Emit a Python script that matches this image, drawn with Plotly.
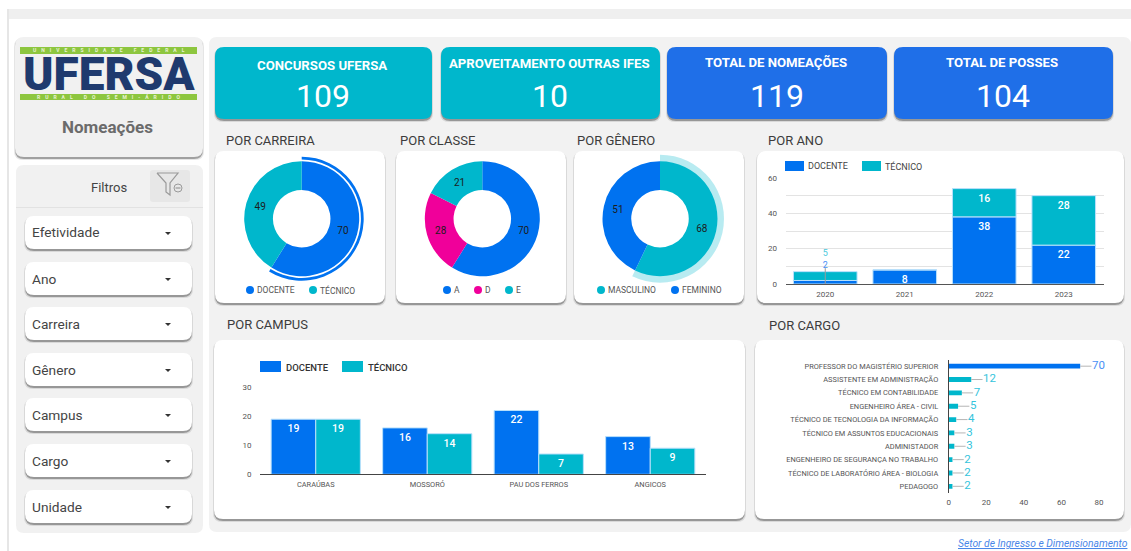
import plotly.graph_objects as go

W, H = 1131, 551
BLUE, TEAL, PINK = "#0072f0", "#00b7cc", "#f0009a"

# ---- data ----
kpi_titles = ["CONCURSOS UFERSA", "APROVEITAMENTO OUTRAS IFES", "TOTAL DE NOMEAÇÕES", "TOTAL DE POSSES"]
kpi_values = [109, 10, 119, 104]
carreira_labels = ["DOCENTE", "TÉCNICO"]
carreira_values = [70, 49]
classe_labels = ["A", "D", "E"]
classe_values = [70, 28, 21]
genero_labels = ["MASCULINO", "FEMININO"]
genero_values = [68, 51]
anos = ["2020", "2021", "2022", "2023"]
ano_docente = [2, 8, 38, 22]
ano_tecnico = [5, 0, 16, 28]
campi = ["CARAÚBAS", "MOSSORÓ", "PAU DOS FERROS", "ANGICOS"]
campus_docente = [19, 16, 22, 13]
campus_tecnico = [19, 14, 7, 9]
cargos = ["PROFESSOR DO MAGISTÉRIO SUPERIOR", "ASSISTENTE EM ADMINISTRAÇÃO", "TÉCNICO EM CONTABILIDADE",
          "ENGENHEIRO ÁREA - CIVIL", "TÉCNICO DE TECNOLOGIA DA INFORMAÇÃO", "TÉCNICO EM ASSUNTOS EDUCACIONAIS",
          "ADMINISTADOR", "ENGENHEIRO DE SEGURANÇA NO TRABALHO", "TÉCNICO DE LABORATÓRIO ÁREA - BIOLOGIA", "PEDAGOGO"]
cargo_values = [70, 12, 7, 5, 4, 3, 3, 2, 2, 2]
filtros = ["Efetividade", "Ano", "Carreira", "Gênero", "Campus", "Cargo", "Unidade"]

# ---- pixel helpers ----
px = lambda x: x / W
py = lambda y: 1 - y / H
shapes, annots = [], []


def rrect(x0, y0, x1, y1, r, fill, layer="below"):
    X0, X1, Y0, Y1 = px(x0), px(x1), py(y0), py(y1)
    rx, ry = r / W, r / H
    d = (f"M {X0+rx} {Y0} L {X1-rx} {Y0} Q {X1} {Y0} {X1} {Y0-ry} L {X1} {Y1+ry} Q {X1} {Y1} {X1-rx} {Y1} "
         f"L {X0+rx} {Y1} Q {X0} {Y1} {X0} {Y1+ry} L {X0} {Y0-ry} Q {X0} {Y0} {X0+rx} {Y0} Z")
    shapes.append(dict(type="path", path=d, xref="paper", yref="paper", fillcolor=fill,
                       line=dict(width=0), layer=layer))


def card(x0, y0, x1, y1, r=9, fill="#ffffff"):
    rrect(x0 - 1, y0 + 1, x1 + 1, y1 + 3, r, "rgba(0,0,0,0.10)")
    rrect(x0, y0 + 1, x1, y1 + 2, r, "rgba(0,0,0,0.30)")
    rrect(x0, y0, x1, y1, r, fill)


def text(x, y, s, size=12, color="#333333", anchor="left", weight=None, family="Roboto"):
    f = dict(size=size, color=color, family=family)
    if weight:
        f["weight"] = weight
    annots.append(dict(x=px(x), y=py(y), xref="paper", yref="paper", text=s, showarrow=False,
                       xanchor=anchor, yanchor="middle", font=f, borderpad=0))


def line_path(points, color, width=1.2):
    d = "M " + " L ".join(f"{px(a)} {py(b)}" for a, b in points)
    shapes.append(dict(type="path", path=d, xref="paper", yref="paper", line=dict(color=color, width=width)))


def circle(cx, cy, r, fill, lcolor=None):
    shapes.append(dict(type="circle", xref="paper", yref="paper", x0=px(cx - r), x1=px(cx + r),
                       y0=py(cy + r), y1=py(cy - r), fillcolor=fill,
                       line=dict(width=1 if lcolor else 0, color=lcolor or fill)))


def swatch(x0, y0, x1, y1, fill):
    shapes.append(dict(type="rect", xref="paper", yref="paper", x0=px(x0), x1=px(x1),
                       y0=py(y1), y1=py(y0), fillcolor=fill, line=dict(width=0)))


def spaced(s, gap=4):
    return ("\u00a0" * gap).join(s)


# ---- page furniture ----
shapes.append(dict(type="rect", xref="paper", yref="paper", x0=px(7), x1=1, y0=py(19), y1=py(9),
                   fillcolor="#efefef", line=dict(width=0), layer="below"))
shapes.append(dict(type="rect", xref="paper", yref="paper", x0=px(7), x1=px(9), y0=0, y1=py(9),
                   fillcolor="#e6e6e6", line=dict(width=0), layer="below"))
rrect(209, 37, 1131, 532, 8, "#f2f2f2")

# logo card
card(15, 37, 203, 157, 9, "#f1f1f1")
swatch(20, 47, 197, 54, "#8dc63f")
swatch(20, 94, 197, 100, "#8dc63f")
text(108.5, 50.5, spaced("UNIVERSIDADE FEDERAL"), 5, "#e8f3d4", "center", 700)
text(108.5, 97.5, spaced("RURAL DO SEMI-ÁRIDO"), 5, "#e8f3d4", "center", 700)
text(108.5, 74, "UFERSA", 46, "#1f3a6e", "center", 900)
text(108, 127, "Nomeações", 17, "#6b6b6b", "center", 700)

# filter panel
rrect(16, 165, 203, 533, 8, "#f1f1f1")
shapes.append(dict(type="rect", xref="paper", yref="paper", x0=px(16), x1=px(203), y0=py(208), y1=py(207),
                   fillcolor="#e2e2e2", line=dict(width=0), layer="below"))
text(108.5, 187, "Filtros", 13, "#444444", "center")
rrect(150, 170, 190, 202, 3, "#e7e7e7")
line_path([(157, 173), (178, 173), (170, 183), (170, 195), (166, 192), (166, 183), (157, 173)], "#9a9a9a")
circle(178, 188, 4, "#e7e7e7", "#9a9a9a")
line_path([(175.5, 188), (180.5, 188)], "#9a9a9a")

drop_tops = [216, 262, 307, 353, 398, 444, 490]
for name, top in zip(filtros, drop_tops):
    card(25, top, 192, top + 33, 9)
    text(31, top + 16.5, name, 13.7, "#444444")
    shapes.append(dict(type="path", xref="paper", yref="paper", fillcolor="#333333", line=dict(width=0),
                       path=f"M {px(165)} {py(top+16)} L {px(171)} {py(top+16)} L {px(168)} {py(top+19)} Z"))

# KPI cards
kpi_boxes = [(215, 432), (441, 660), (667, 887), (894, 1113)]
kpi_colors = [TEAL, TEAL, "#1f6fe8", "#1f6fe8"]
kpi_title_y = [66, 63, 62, 62]
for (x0, x1), c, t, v, ty in zip(kpi_boxes, kpi_colors, kpi_titles, kpi_values, kpi_title_y):
    card(x0, 47, x1, 119, 9, c)
    mid = (x0 + x1) / 2
    text(mid - 1.5, ty, t, 13.2, "#ffffff", "center", 700)
    text(mid - 0.5, 96, str(v), 32, "#ffffff", "center")

# chart cards + section titles
for b in [(215, 151, 385, 303), (396, 151, 566, 303), (574, 151, 744, 303), (757, 151, 1124, 303),
          (214, 340, 745, 519), (755, 340, 1124, 519)]:
    card(*b)
for x, y, s in [(225, 140, "POR CARREIRA"), (399, 140, "POR CLASSE"), (576, 140, "POR GÊNERO"),
                (767, 140, "POR ANO"), (226, 324.5, "POR CAMPUS"), (768, 325.5, "POR CARGO")]:
    text(x, y, s, 13, "#3c3c3c")

fig = go.Figure()


def pie(cx, cy, r, labels, values, colors, hole, show_text=True):
    fig.add_trace(go.Pie(labels=labels, values=values, sort=False, direction="clockwise", rotation=0,
                         hole=hole, showlegend=False,
                         marker=dict(colors=colors, line=dict(width=0)),
                         domain=dict(x=[px(cx - r), px(cx + r)], y=[py(cy + r), py(cy - r)]),
                         textinfo="value" if show_text else "none",
                         textposition="inside" if show_text else "none",
                         insidetextorientation="horizontal",
                         textfont=dict(size=10, color="#1c1c1c", family="Roboto"),
                         hoverinfo="label+value" if show_text else "skip"))


CLEAR = "rgba(0,0,0,0)"
pie(301.7, 218.7, 62, carreira_labels, carreira_values, [BLUE, CLEAR], 0.955, False)
pie(301.7, 218.7, 57.5, carreira_labels, carreira_values, [BLUE, TEAL], 0.5)
pie(482.3, 218.7, 57.5, classe_labels, classe_values, [BLUE, PINK, TEAL], 0.5)
pie(660, 218.7, 64, genero_labels, genero_values, ["rgba(0,183,204,0.28)", CLEAR], 0.89, False)
pie(660, 218.7, 57.5, genero_labels, genero_values, [TEAL, BLUE], 0.5)

# pie legends
for cx, c, s in [(250, BLUE, "DOCENTE"), (313, TEAL, "TÉCNICO"), (447, BLUE, "A"), (478, PINK, "D"),
                 (509, TEAL, "E"), (601, TEAL, "MASCULINO"), (675, BLUE, "FEMININO")]:
    circle(cx, 290, 4, c)
    text(cx + 6, 290, s, 8.5, "#555555")

# bar legends
for x0, c, s in [(785, BLUE, "DOCENTE"), (862, TEAL, "TÉCNICO")]:
    swatch(x0, 161, x0 + 19, 171, c)
    text(x0 + 22, 166, s, 9, "#444444")
for x0, c, s in [(260, BLUE, "DOCENTE"), (342, TEAL, "TÉCNICO")]:
    swatch(x0, 361, x0 + 21, 372, c)
    text(x0 + 25, 367, s, 9.5, "#333333", weight=500)

tick8 = dict(size=8, color="#555555", family="Roboto")
tick7 = dict(size=7.4, color="#555555", family="Roboto")
edge = dict(color="#b9e0fb", width=1)
bar_font = dict(size=10.5, color="#ffffff", family="Roboto", weight=500)

# Por ano (stacked by sharing an offset group, technical sitting on docente)
fig.add_trace(go.Bar(x=anos, y=ano_docente, name="DOCENTE", marker=dict(color=BLUE, line=edge),
                     text=["" if v < 5 else str(v) for v in ano_docente], showlegend=False,
                     offsetgroup="ano", xaxis="x", yaxis="y"))
fig.add_trace(go.Bar(x=anos, y=ano_tecnico, base=ano_docente, name="TÉCNICO", marker=dict(color=TEAL, line=edge),
                     text=["" if i == 0 or v == 0 else str(v) for i, v in enumerate(ano_tecnico)], showlegend=False,
                     offsetgroup="ano", xaxis="x", yaxis="y"))
# Por campus (grouped)
fig.add_trace(go.Bar(x=campi, y=campus_docente, name="DOCENTE", marker=dict(color=BLUE, line=edge),
                     text=[str(v) for v in campus_docente], showlegend=False, xaxis="x2", yaxis="y2"))
fig.add_trace(go.Bar(x=campi, y=campus_tecnico, name="TÉCNICO", marker=dict(color=TEAL, line=edge),
                     text=[str(v) for v in campus_tecnico], showlegend=False, xaxis="x2", yaxis="y2"))
fig.update_traces(selector=dict(type="bar"), textposition="inside", insidetextanchor="end", textangle=0,
                  constraintext="none", textfont=bar_font)

# 2020 small-segment callouts
fig.add_trace(go.Scatter(x=[anos[0], anos[0]], y=[0, 9], mode="lines", line=dict(color="#9a9a9a", width=1),
                         showlegend=False, hoverinfo="skip", xaxis="x", yaxis="y"))
fig.add_trace(go.Scatter(x=[anos[0], anos[0]], y=[10.5, 17], mode="text", cliponaxis=False,
                         text=[str(ano_docente[0]), str(ano_tecnico[0])],
                         textfont=dict(size=9, color=["#4a90f5", "#4cc9dc"], family="Roboto"),
                         showlegend=False, hoverinfo="skip", xaxis="x", yaxis="y"))

# Por cargo (horizontal)
cargo_colors = [BLUE] + [TEAL] * 9
LEADER = [6] * len(cargo_values)
fig.add_trace(go.Bar(y=cargos, x=cargo_values, orientation="h", marker=dict(color=cargo_colors, line=dict(width=0)),
                     width=0.36, showlegend=False, xaxis="x3", yaxis="y3",
                     error_x=dict(type="data", symmetric=False, array=LEADER, arrayminus=[0] * len(LEADER),
                                  color="#b5b5b5", thickness=1, width=0)))
fig.add_trace(go.Scatter(y=cargos, x=[v + l + 0.3 for v, l in zip(cargo_values, LEADER)], mode="text",
                         text=[str(v) for v in cargo_values], textposition="middle right", cliponaxis=False,
                         textfont=dict(size=11.5, color=["#4a90f5"] + ["#35c4dc"] * 9, family="Roboto"),
                         showlegend=False, hoverinfo="skip", xaxis="x3", yaxis="y3"))

text(1129, 543.5, "<i><u>Setor de Ingresso e Dimensionamento</u></i>", 10.3, "#4a86e8", "right")

fig.update_layout(
    width=W, height=H, autosize=False, margin=dict(l=0, r=0, t=0, b=0, pad=0, autoexpand=False),
    paper_bgcolor="#ffffff", plot_bgcolor="rgba(0,0,0,0)", shapes=shapes, annotations=annots,
    hovermode=False,
    barmode="group", bargap=0.2, bargroupgap=0,
    xaxis=dict(domain=[px(785.5), px(1103.5)], anchor="y", type="category", showline=True, linecolor="#555555",
               linewidth=1, tickfont=tick8, ticks="outside", ticklen=2, tickcolor=CLEAR, showgrid=False,
               automargin=False),
    yaxis=dict(domain=[py(284), py(178)], anchor="x", range=[0, 60], tickvals=[0, 10, 20, 30, 40, 50, 60],
               ticktext=["0", "", "20", "", "40", "", "60"], tickfont=tick8, showgrid=True, gridcolor="#e3e3e3",
               zeroline=False, showline=False, ticks="outside", ticklen=6, tickcolor=CLEAR, automargin=False),
    xaxis2=dict(domain=[px(260), px(706)], anchor="y2", type="category", showline=True, linecolor="#444444",
                linewidth=1, tickfont=tick7, ticks="outside", ticklen=3, tickcolor=CLEAR, showgrid=False,
                automargin=False),
    yaxis2=dict(domain=[py(474.3), py(387.3)], anchor="x2", range=[0, 30], dtick=10, tickfont=tick8,
                showgrid=False, zeroline=False, showline=False, ticks="outside", ticklen=6, tickcolor=CLEAR,
                automargin=False),
    xaxis3=dict(domain=[px(948.7), px(1099)], anchor="y3", range=[0, 80], dtick=20, tickfont=tick8,
                showgrid=False, zeroline=False, showline=False, ticks="outside", ticklen=1, tickcolor=CLEAR,
                automargin=False),
    yaxis3=dict(domain=[py(493), py(359.5)], anchor="x3", type="category", autorange="reversed",
                showline=True, linecolor="#444444", linewidth=1, tickfont=tick7, showgrid=False,
                ticks="outside", ticklen=8, tickcolor=CLEAR, automargin=False),
)

fig.write_html("out.html", config=dict(displayModeBar=False),
               post_script="document.body.style.margin='0';document.body.style.overflow='hidden';")
